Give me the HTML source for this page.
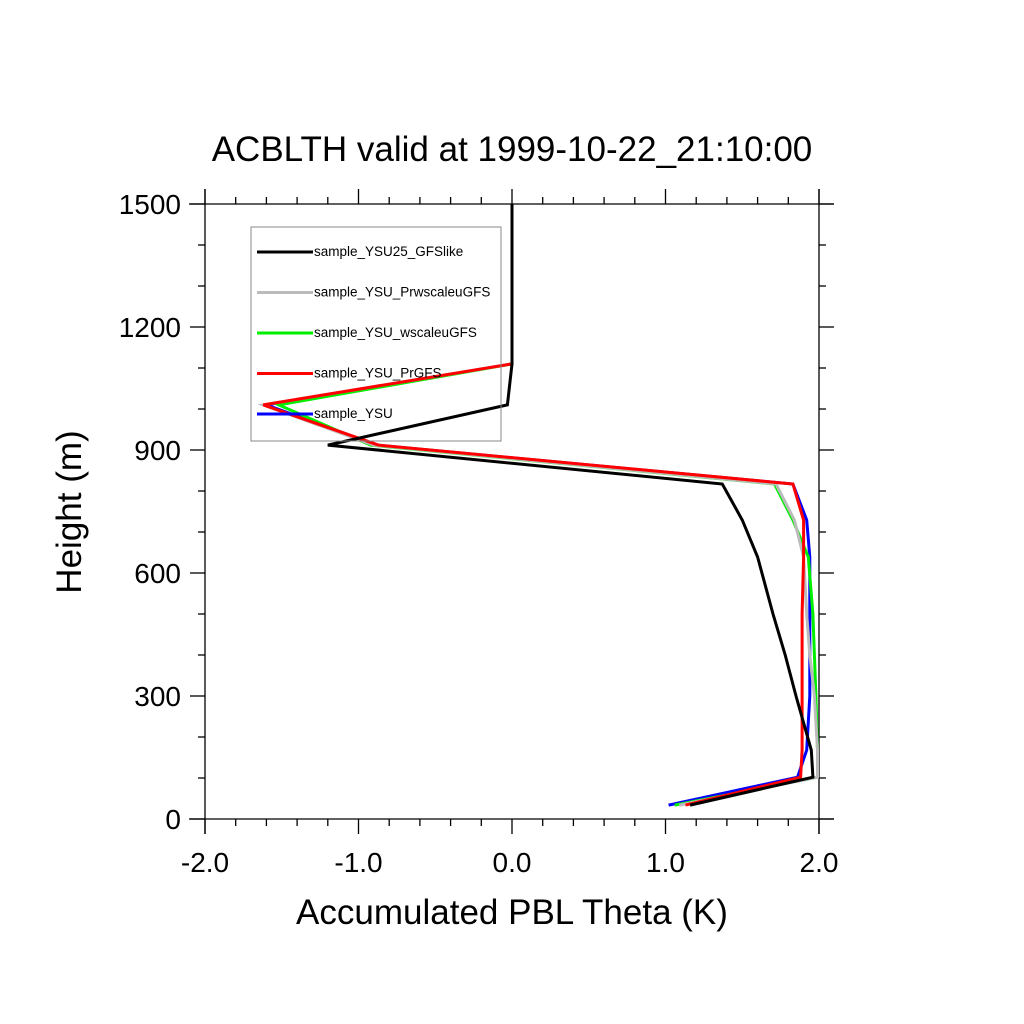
<!DOCTYPE html>
<html><head><meta charset="utf-8"><style>
body{margin:0;background:#fff}
svg{display:block;font-family:"Liberation Sans",sans-serif}
</style></head><body>
<svg id="chart" width="1024" height="1024" viewBox="0 0 1024 1024" xmlns="http://www.w3.org/2000/svg">
<rect width="1024" height="1024" fill="#fff"/>
<text x="512" y="161" font-size="35" text-anchor="middle">ACBLTH valid at 1999-10-22_21:10:00</text>
<text x="512" y="924" font-size="35" text-anchor="middle">Accumulated PBL Theta (K)</text>
<text x="0" y="0" font-size="35" text-anchor="middle" transform="translate(81,512) rotate(-90)">Height (m)</text>
<g id="axes"></g>
<g id="series"></g>
<g id="legend"></g>
</svg>
<script>
const heights = [34,102,168,300,400,500,639,729,817,912,1010,1110,1500];
const seriesNames = ["sample_YSU25_GFSlike","sample_YSU_PrwscaleuGFS","sample_YSU_wscaleuGFS","sample_YSU_PrGFS","sample_YSU"];
const seriesColors = ["#000000","#bbbbbb","#00ee00","#ff0000","#0000ff"];
const blackVals = [1.16,1.96,1.95,1.85,1.78,1.70,1.60,1.50,1.37,-1.20,-0.03,0.0,0.0];
const grayVals  = [1.09,1.99,1.99,1.97,1.94,1.92,1.90,1.84,1.72,-0.90,-1.62,0.0,0.0];
const greenVals = [1.06,1.99,1.99,1.98,1.97,1.96,1.93,1.83,1.71,-0.92,-1.52,0.0,0.0];
const redVals   = [1.13,1.88,1.89,1.89,1.89,1.89,1.90,1.90,1.83,-0.87,-1.62,0.0,0.0];
const blueVals  = [1.02,1.86,1.92,1.94,1.94,1.94,1.94,1.92,1.83,-0.88,-1.60,0.0,0.0];
const xTickLabels = ["-2.0","-1.0","0.0","1.0","2.0"];
const yTickLabels = ["0","300","600","900","1200","1500"];

const X0=205,X1=819,Y0=819,Y1=204,xmin=-2,xmax=2,ymin=0,ymax=1500;
const xs=v=>X0+(v-xmin)/(xmax-xmin)*(X1-X0);
const ys=v=>Y0-(v-ymin)/(ymax-ymin)*(Y0-Y1);
const NS="http://www.w3.org/2000/svg";
function mk(tag,attrs,parent){const e=document.createElementNS(NS,tag);for(const k in attrs)e.setAttribute(k,attrs[k]);parent.appendChild(e);return e;}
const axes=document.getElementById('axes');
const ln=(x1,y1,x2,y2,w)=>mk('line',{x1,y1,x2,y2,stroke:'#000','stroke-width':w||1.3},axes);
let f;
f=ln(X0,189,X0,834);
f=ln(X1,189,X1,834);
f=ln(189,Y0,834,Y0);
f=ln(189,Y1,834,Y1);
for(let i=0;i<=20;i++){const v=xmin+i*0.2,x=xs(v),len=(i%5==0)?15:7;
  ln(x,Y0,x,Y0+len);ln(x,Y1,x,Y1-len);}
for(let i=0;i<=15;i++){const v=i*100,y=ys(v),len=(i%3==0)?15:7;
  ln(X0,y,X0-len,y);ln(X1,y,X1+len,y);}
xTickLabels.forEach(t=>{const e=mk('text',{x:xs(parseFloat(t)),y:872,'font-size':28,'text-anchor':'middle'},axes);e.textContent=t;
  
  });
yTickLabels.forEach(t=>{const e=mk('text',{x:181,y:ys(parseFloat(t))+10,'font-size':28,'text-anchor':'end'},axes);e.textContent=t;
  
  });

const allVals=[blackVals,grayVals,greenVals,redVals,blueVals];
const sg=document.getElementById('series');
const order=[4,2,1,3,0];
order.forEach(i=>{const pts=allVals[i].map((v,j)=>xs(v).toFixed(1)+','+ys(heights[j]).toFixed(1)).join(' ');
  const p=mk('polyline',{points:pts,fill:'none',stroke:seriesColors[i],'stroke-width':3,'stroke-linejoin':'miter'},sg);
  
  });

const lg=document.getElementById('legend');
const box=mk('rect',{x:251,y:227,width:250,height:214,fill:'none',stroke:'#888','stroke-width':1},lg);


seriesNames.forEach((n,i)=>{const y=252+i*40.5;
  const l=mk('line',{x1:257,y1:y,x2:313,y2:y,stroke:seriesColors[i],'stroke-width':3},lg);
  
  
  const t=mk('text',{x:314,y:y+4,'font-size':13.5},lg);t.textContent=n;
  
  });
</script>
</body></html>
